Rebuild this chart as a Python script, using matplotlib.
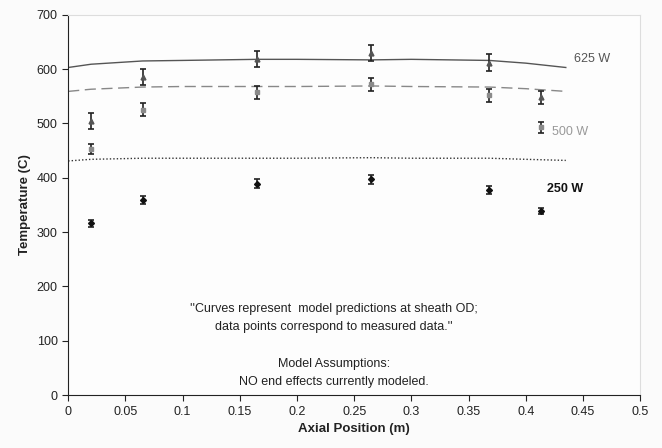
import matplotlib.pyplot as plt
import numpy as np

plt.rcParams['font.family'] = ['Liberation Sans', 'DejaVu Sans']

# measured points (axial position, temperature, error)
x_meas = [0.02, 0.065, 0.165, 0.265, 0.368, 0.413]
t_625 = [505, 585, 618, 630, 612, 548]
t_500 = [453, 525, 557, 572, 552, 493]
t_250 = [316, 359, 389, 397, 377, 339]
err_625 = [15, 15, 15, 15, 15, 12]
err_500 = [10, 12, 12, 12, 12, 10]
err_250 = [7, 8, 8, 8, 7, 6]

# model curves at sheath OD
x_model = [0.0, 0.02, 0.065, 0.1, 0.165, 0.2, 0.265, 0.3, 0.368, 0.4, 0.435]
m_625 = [603, 609, 615, 616, 618, 618, 617, 618, 616, 611, 603]
m_500 = [559, 563, 567, 568, 568, 568, 569, 568, 567, 564, 559]
m_250 = [431, 434, 436, 436, 436, 436, 437, 436, 436, 434, 432]

fig = plt.figure(figsize=(6.62, 4.48), dpi=100)
fig.patch.set_facecolor('#fbfbfb')
ax = fig.add_axes([0.103, 0.118, 0.864, 0.849])
ax.set_facecolor('#fdfdfd')

ax.plot(x_model, m_625, color='#555555', lw=1.0, ls='-')
ax.plot(x_model, m_500, color='#888888', lw=1.0, ls=(0, (8, 4)))
ax.plot(x_model, m_250, color='#333333', lw=1.0, ls=(0, (1, 1.5)))

ax.errorbar(x_meas, t_625, yerr=err_625, fmt='^', ms=3.5, color='#555555',
            ecolor='#222222', elinewidth=1.2, capsize=2.5, capthick=1.2)
ax.errorbar(x_meas, t_500, yerr=err_500, fmt='s', ms=3.2, color='#8a8a8a',
            ecolor='#222222', elinewidth=1.2, capsize=2.5, capthick=1.2)
ax.errorbar(x_meas, t_250, yerr=err_250, fmt='D', ms=3, color='#111111',
            ecolor='#222222', elinewidth=1.2, capsize=2.5, capthick=1.2)

ax.text(0.442, 618, '625 W', fontsize=9, color='#555555', va='center')
ax.text(0.423, 484, '500 W', fontsize=9, color='#999999', va='center')
ax.text(0.419, 380, '250 W', fontsize=9, color='#111111', va='center', fontweight='bold')

ax.text(0.232, 159, "''Curves represent  model predictions at sheath OD;", fontsize=9,
        ha='center', va='center', color='#222222')
ax.text(0.232, 125, "data points correspond to measured data.''", fontsize=9,
        ha='center', va='center', color='#222222')
ax.text(0.232, 57, 'Model Assumptions:', fontsize=9, ha='center', va='center', color='#222222')
ax.text(0.232, 25, 'NO end effects currently modeled.', fontsize=9, ha='center', va='center',
        color='#222222')

ax.set_xlim(0, 0.5)
ax.set_ylim(0, 700)
ax.set_xticks(np.arange(0, 0.501, 0.05))
ax.set_xticklabels(['0', '0.05', '0.1', '0.15', '0.2', '0.25', '0.3', '0.35', '0.4', '0.45', '0.5'])
ax.set_yticks(np.arange(0, 701, 100))
ax.tick_params(labelsize=9, colors='#222222', length=4, direction='out')

ax.spines['left'].set_color('#222222')
ax.spines['bottom'].set_color('#222222')
ax.spines['top'].set_color('#dddddd')
ax.spines['right'].set_color('#dddddd')

ax.set_xlabel('Axial Position (m)', fontsize=9.5, fontweight='bold', color='#222222')
ax.set_ylabel('Temperature (C)', fontsize=9.5, fontweight='bold', color='#222222')

fig.savefig('out.png', dpi=100, facecolor=fig.get_facecolor())
